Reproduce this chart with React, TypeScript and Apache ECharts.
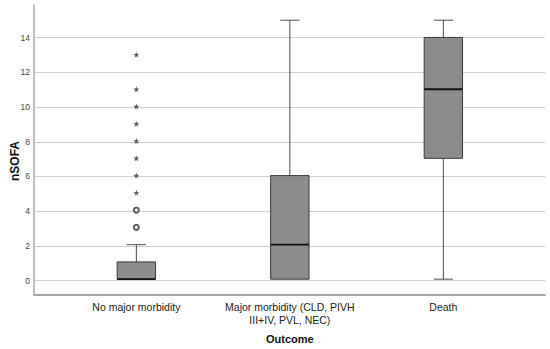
import React, { useEffect, useRef } from "react";
import * as echarts from "echarts";

const categories = ["No major morbidity", "Major morbidity (CLD, PIVH\nIII+IV, PVL, NEC)", "Death"];
// [min whisker, Q1, median, Q3, max whisker]
const boxStats = [
  [0, 0, 0, 1, 2],
  [0, 0, 2, 6, 15],
  [0, 7, 11, 14, 15],
];
const mildOutliers = [
  [0, 3],
  [0, 4],
];
const extremeOutliers = [
  [0, 5],
  [0, 6],
  [0, 7],
  [0, 8],
  [0, 9],
  [0, 10],
  [0, 11],
  [0, 13],
];
const yTicks = [0, 2, 4, 6, 8, 10, 12, 14];

const Y_MIN = -0.8;
const Y_MAX = 15.88;
const FONT = "'Liberation Sans', Arial, sans-serif";

const starPath =
  "path://M0,-10 L2.35,-3.24 L9.51,-3.09 L3.8,1.24 L5.88,8.09 L0,4 L-5.88,8.09 L-3.8,1.24 L-9.51,-3.09 L-2.35,-3.24 Z";

export default function App() {
  const ref = useRef<HTMLDivElement>(null);
  useEffect(() => {
    if (!ref.current) return;
    const chart = echarts.init(ref.current, null, { renderer: "svg" });
    const option: any = {
      animation: false,
      backgroundColor: "#ffffff",
      grid: [
        { left: 34, top: 5, width: 511, height: 289.5 },
        { left: 59.6, top: 5, width: 460.5, height: 289.5 },
      ],
      xAxis: [
        {
          type: "category",
          gridIndex: 0,
          data: [""],
          axisLine: { show: true, onZero: false, lineStyle: { color: "#a8a8a8", width: 2 } },
          axisTick: { show: false },
          axisLabel: { show: false },
          splitLine: { show: false },
        },
        {
          type: "category",
          gridIndex: 1,
          data: categories,
          axisLine: { show: false, onZero: false },
          axisTick: { show: false },
          axisLabel: {
            color: "#222",
            fontFamily: FONT,
            fontSize: 10.5,
            lineHeight: 13.5,
            margin: 7,
            interval: 0,
          },
          name: "Outcome",
          nameLocation: "middle",
          nameGap: 40,
          nameTextStyle: { fontFamily: FONT, fontSize: 11, fontWeight: "bold", color: "#111" },
        },
      ],
      yAxis: [
        {
          type: "value",
          gridIndex: 0,
          min: Y_MIN,
          max: Y_MAX,
          axisLine: { show: true, onZero: false, lineStyle: { color: "#a8a8a8", width: 1.5 } },
          axisTick: { show: false },
          splitLine: { show: false },
          axisLabel: {
            customValues: yTicks,
            color: "#444",
            fontFamily: FONT,
            fontSize: 8.5,
            margin: 4,
          },
        },
        {
          type: "value",
          gridIndex: 1,
          min: Y_MIN,
          max: Y_MAX,
          show: false,
          splitLine: { show: false },
        },
      ],
      graphic: [
        {
          type: "text",
          x: 15,
          y: 161,
          rotation: Math.PI / 2,
          style: {
            text: "nSOFA",
            fontFamily: FONT,
            fontSize: 12,
            fontWeight: "bold",
            fill: "#111",
            align: "center",
            verticalAlign: "middle",
          },
        },
      ],
      series: [
        {
          type: "line",
          xAxisIndex: 0,
          yAxisIndex: 0,
          data: [],
          silent: true,
          z: 0,
          markLine: {
            silent: true,
            z: 0,
            symbol: "none",
            label: { show: false },
            lineStyle: { color: "#cfcfcf", width: 1, type: "solid" },
            data: yTicks.map((v) => ({ yAxis: v })),
          },
        },
        {
          type: "custom",
          xAxisIndex: 1,
          yAxisIndex: 1,
          z: 10,
          data: boxStats.map((s, i) => [i, ...s]),
          renderItem: (params: any, api: any) => {
            const idx = api.value(0);
            const mn = api.value(1);
            const q1 = api.value(2);
            const med = api.value(3);
            const q3 = api.value(4);
            const mx = api.value(5);
            const band = api.size([1, 0])[0];
            const bw = band * 0.25;
            const cw = bw / 2;
            const cx = api.coord([idx, 0])[0];
            const y = (v: number) => api.coord([idx, v])[1];
            const children: any[] = [];
            const lineStyle = { stroke: "#4a4a4a", lineWidth: 1 };
            if (mx > q3) {
              children.push({ type: "line", shape: { x1: cx, y1: y(q3), x2: cx, y2: y(mx) }, style: lineStyle });
              children.push({ type: "line", shape: { x1: cx - cw / 2, y1: y(mx), x2: cx + cw / 2, y2: y(mx) }, style: lineStyle });
            }
            if (mn < q1) {
              children.push({ type: "line", shape: { x1: cx, y1: y(q1), x2: cx, y2: y(mn) }, style: lineStyle });
              children.push({ type: "line", shape: { x1: cx - cw / 2, y1: y(mn), x2: cx + cw / 2, y2: y(mn) }, style: lineStyle });
            }
            children.push({
              type: "rect",
              shape: { x: cx - bw / 2, y: y(q3), width: bw, height: y(q1) - y(q3) },
              style: { fill: "#8c8c8c", stroke: "#3a3a3a", lineWidth: 1 },
            });
            children.push({
              type: "line",
              shape: { x1: cx - bw / 2, y1: y(med), x2: cx + bw / 2, y2: y(med) },
              style: { stroke: "#111", lineWidth: 1.8 },
            });
            return { type: "group", children };
          },
        },
        {
          type: "scatter",
          xAxisIndex: 1,
          yAxisIndex: 1,
          z: 11,
          data: mildOutliers,
          symbol: "emptyCircle",
          symbolSize: 5,
          itemStyle: { color: "#333", borderColor: "#333", borderWidth: 0.9 },
          silent: true,
        },
        {
          type: "scatter",
          xAxisIndex: 1,
          yAxisIndex: 1,
          z: 11,
          data: extremeOutliers,
          symbol: starPath,
          symbolSize: 6,
          itemStyle: { color: "#333" },
          silent: true,
        },
      ],
    };
    chart.setOption(option);
    return () => chart.dispose();
  }, []);
  return (
    <div
      ref={ref}
      style={{ position: "fixed", left: 0, top: 0, width: 550, height: 349 }}
    />
  );
}
